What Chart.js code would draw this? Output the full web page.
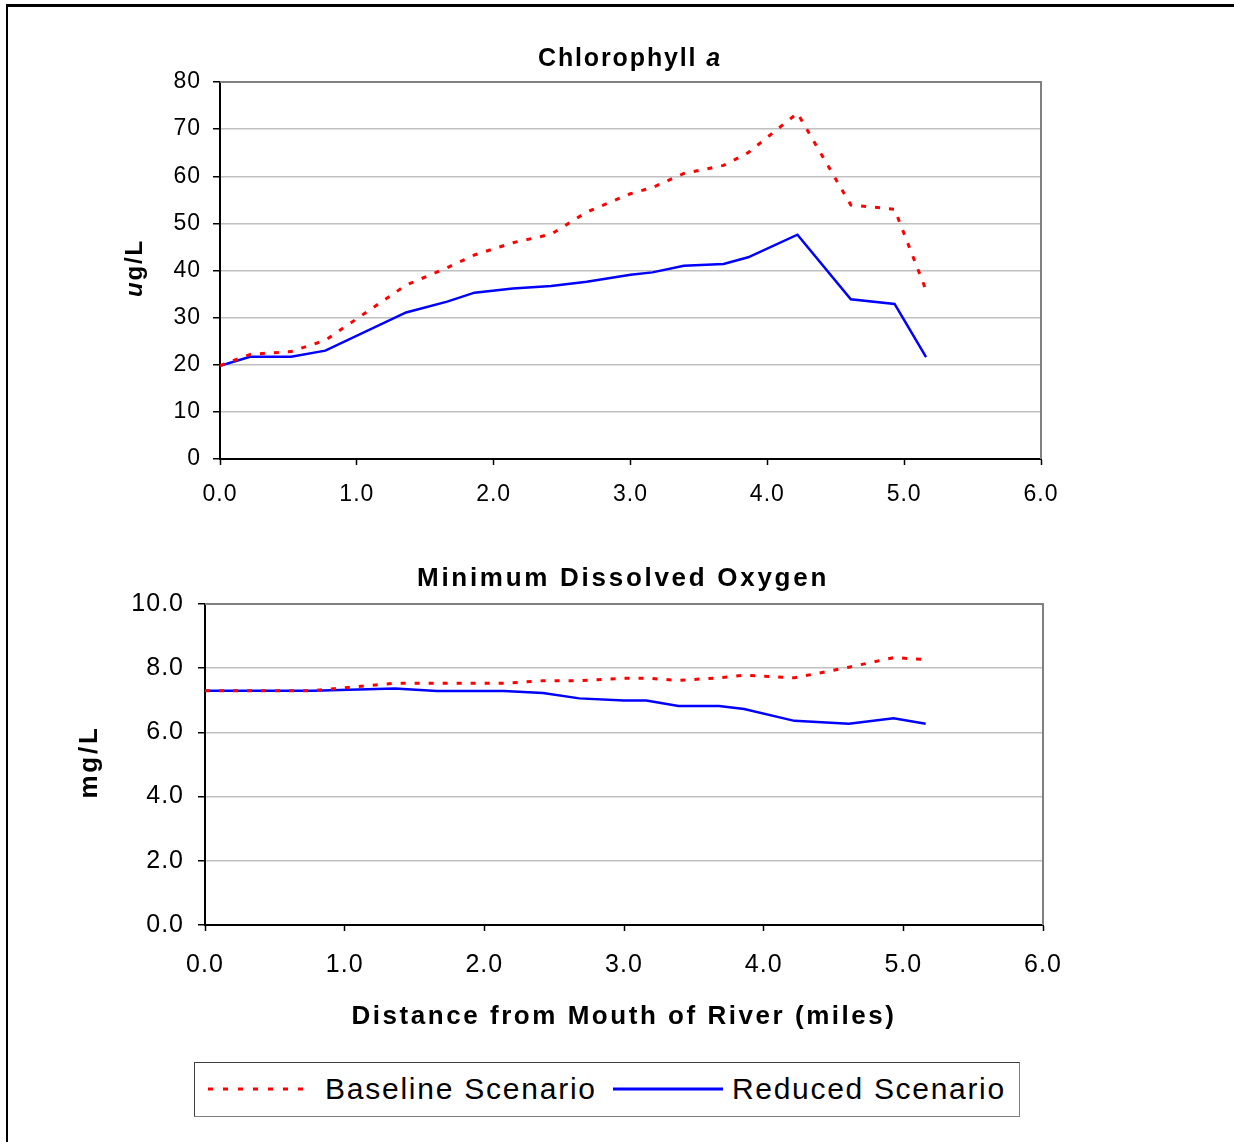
<!DOCTYPE html>
<html>
<head>
<meta charset="utf-8">
<script src="https://cdn.jsdelivr.net/npm/chart.js@4.4.1/dist/chart.umd.min.js"></script>
<style>
  html, body { margin: 0; padding: 0; background: #fff; }
  body { width: 1234px; height: 1142px; position: relative; overflow: hidden; font-family: "Liberation Sans", Arial, sans-serif; }
  #frame { position: absolute; left: 6px; top: 4px; width: 1300px; height: 1200px; border-top: 3px solid #000; border-left: 2px solid #000; }
  canvas { position: absolute; left: 0; }
  #chlChart { top: 0; }
  #doChart { top: 520px; }
  #legend { position: absolute; left: 194px; top: 1062px; width: 824px; height: 53px; border: 1px solid #404040; border-right-color: #808080; border-bottom-color: #808080; background: #fff; }
  #legend svg { position: absolute; top: 22px; }
  #legend span { position: absolute; top: 0; line-height: 51px; font-size: 30px; color: #000; white-space: nowrap; }
</style>
</head>
<body>
<div id="frame"></div>
<canvas id="chlChart" width="1234" height="520"></canvas>
<canvas id="doChart" width="1234" height="540"></canvas>
<div id="legend">
  <svg style="left:12px" width="106" height="8"><line x1="1" y1="4" x2="105" y2="4" stroke="#ff0000" stroke-width="3" stroke-dasharray="5 10"/></svg>
  <span id="lgBase" style="left:130px">Baseline Scenario</span>
  <svg style="left:418px" width="110" height="8"><line x1="0" y1="4" x2="110" y2="4" stroke="#0000ff" stroke-width="3"/></svg>
  <span id="lgRed" style="left:537px">Reduced Scenario</span>
</div>
<script>
// distance from mouth of river (miles)
const distance    = [0.00, 0.22, 0.52, 0.77, 1.36, 1.66, 1.86, 2.14, 2.42, 2.68, 3.00, 3.16, 3.39, 3.68, 3.86, 4.22, 4.61, 4.93, 5.16];
// chlorophyll a (ug/L)
const chlBaseline = [19.8, 22.2, 22.8, 25.2, 36.9, 40.6, 43.3, 45.9, 47.7, 52.4, 56.3, 57.6, 60.6, 62.3, 65.0, 73.4, 53.9, 53.0, 35.8];
const chlReduced  = [19.8, 21.7, 21.7, 23.0, 31.1, 33.4, 35.3, 36.2, 36.7, 37.6, 39.1, 39.6, 41.0, 41.4, 42.8, 47.6, 33.9, 32.9, 21.6];
// minimum dissolved oxygen (mg/L)
const doBaseline  = [7.30, 7.30, 7.30, 7.30, 7.53, 7.53, 7.53, 7.53, 7.61, 7.61, 7.69, 7.69, 7.62, 7.70, 7.78, 7.70, 8.03, 8.33, 8.27];
const doReduced   = [7.30, 7.30, 7.30, 7.30, 7.37, 7.29, 7.29, 7.29, 7.23, 7.06, 6.99, 6.99, 6.82, 6.82, 6.73, 6.36, 6.27, 6.44, 6.27];

const FONT = '"Liberation Sans", Arial, sans-serif';

function pts(xs, ys) {
  return xs.map((x, i) => ({ x: x, y: ys[i] }));
}

// draw bold text (optionally with italic parts) spread to a target width
function drawFitted(ctx, parts, cx, cy, width, size, angle) {
  ctx.save();
  ctx.translate(cx, cy);
  if (angle) ctx.rotate(angle);
  ctx.textBaseline = 'middle';
  ctx.textAlign = 'left';
  ctx.fillStyle = '#000';
  ctx.letterSpacing = '0px';
  let natural = 0, count = 0;
  const widths = parts.map(p => {
    ctx.font = (p.italic ? 'italic ' : '') + 'bold ' + size + 'px ' + FONT;
    const w = ctx.measureText(p.text).width;
    natural += w; count += p.text.length;
    return w;
  });
  const sp = Math.max(0, (width - natural) / count);
  ctx.letterSpacing = sp + 'px';
  let x = -width / 2;
  parts.forEach((p, i) => {
    ctx.font = (p.italic ? 'italic ' : '') + 'bold ' + size + 'px ' + FONT;
    ctx.fillText(p.text, x, 0);
    x += widths[i] + sp * p.text.length;
  });
  ctx.restore();
}

const decor = {
  id: 'decor',
  beforeDraw(chart) {
    chart.ctx.letterSpacing = '1px';
  },
  beforeDatasetsDraw(chart) {
    const a = chart.chartArea, ctx = chart.ctx;
    ctx.save();
    ctx.strokeStyle = '#808080';
    ctx.lineWidth = 2;
    ctx.beginPath();
    ctx.moveTo(a.left, a.top);
    ctx.lineTo(a.right, a.top);
    ctx.lineTo(a.right, a.bottom);
    ctx.stroke();
    ctx.restore();
  },
  afterDraw(chart) {
    const texts = chart.options.plugins.decor.texts || [];
    texts.forEach(t => drawFitted(chart.ctx, t.parts, t.x, t.y, t.w, t.size, t.angle));
  }
};

function lineChart(id, baseline, reduced, yMax, yStep, yDigits, box, fontSize, texts) {
  return new Chart(document.getElementById(id), {
    type: 'line',
    data: {
      datasets: [
        {
          label: 'Baseline Scenario',
          data: pts(distance, baseline),
          borderColor: '#ff0000',
          borderWidth: 3,
          borderDash: [5, 9],
          pointRadius: 0,
          tension: 0,
          fill: false
        },
        {
          label: 'Reduced Scenario',
          data: pts(distance, reduced),
          borderColor: '#0000ff',
          borderWidth: 2.5,
          pointRadius: 0,
          tension: 0,
          fill: false
        }
      ]
    },
    options: {
      responsive: false,
      animation: false,
      events: [],
      layout: { padding: { left: 0, top: box.top, right: 1234 - box.right, bottom: 0 } },
      plugins: {
        legend: { display: false },
        title: { display: false },
        tooltip: { enabled: false },
        decor: { texts: texts }
      },
      scales: {
        x: {
          type: 'linear',
          min: 0,
          max: 6,
          afterFit: s => { s.height = box.h - box.bottom; },
          ticks: {
            stepSize: 1,
            color: '#000',
            padding: box.xPad,
            maxRotation: 0,
            font: { family: FONT, size: fontSize },
            callback: v => Number(v).toFixed(1)
          },
          grid: { drawOnChartArea: false, tickLength: 6, tickColor: '#000', tickWidth: 1.5 },
          border: { color: '#000', width: 2 }
        },
        y: {
          min: 0,
          max: yMax,
          afterFit: s => { s.width = box.left; },
          ticks: {
            stepSize: yStep,
            color: '#000',
            padding: box.yPad,
            font: { family: FONT, size: fontSize },
            callback: v => Number(v).toFixed(yDigits)
          },
          grid: { color: '#c0c0c0', lineWidth: 1.5, tickLength: 7, tickColor: '#000', tickWidth: 1.5 },
          border: { color: '#000', width: 2 }
        }
      }
    },
    plugins: [decor]
  });
}

lineChart('chlChart', chlBaseline, chlReduced, 80, 10, 0,
  { left: 220, right: 1041, top: 82, bottom: 459, h: 520, xPad: 16, yPad: 12 }, 23,
  [
    { parts: [{ text: 'Chlorophyll ' }, { text: 'a', italic: true }], x: 630, y: 59, w: 184, size: 25 },
    { parts: [{ text: 'u', italic: true }, { text: 'g/L' }], x: 135, y: 268, w: 58, size: 24, angle: -Math.PI / 2 }
  ]);

lineChart('doChart', doBaseline, doReduced, 10, 2, 1,
  { left: 205, right: 1043, top: 84, bottom: 405, h: 540, xPad: 19, yPad: 14 }, 25,
  [
    { parts: [{ text: 'Minimum Dissolved Oxygen' }], x: 623, y: 59, w: 412, size: 26 },
    { parts: [{ text: 'mg/L' }], x: 90, y: 242, w: 73, size: 26, angle: -Math.PI / 2 },
    { parts: [{ text: 'Distance from Mouth of River (miles)' }], x: 624, y: 497, w: 545, size: 26 }
  ]);

// spread legend labels to the reference widths
[['lgBase', 272], ['lgRed', 274]].forEach(([id, target]) => {
  const el = document.getElementById(id);
  const extra = (target - el.offsetWidth) / el.textContent.length;
  el.style.letterSpacing = Math.max(0, extra) + 'px';
});
</script>
</body>
</html>
